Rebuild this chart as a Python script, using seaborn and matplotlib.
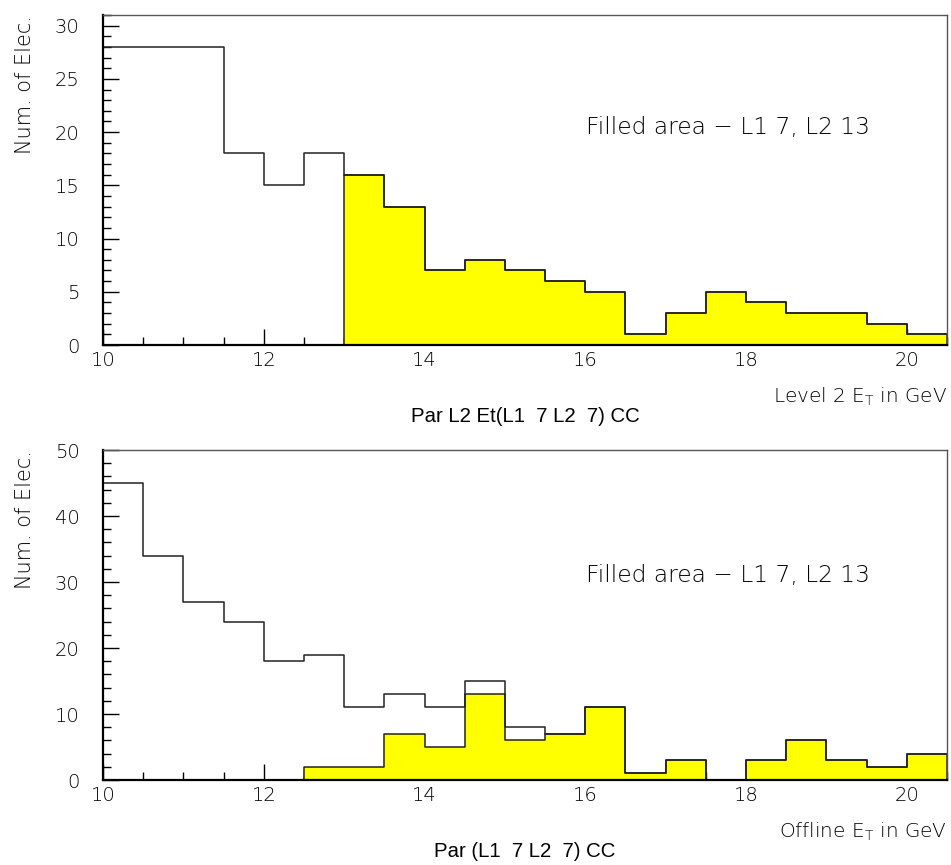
import numpy as np
import pandas as pd
import matplotlib
matplotlib.use("Agg")
import matplotlib.pyplot as plt
import seaborn as sns
from matplotlib.ticker import MultipleLocator

# ---- data ----
bin_edges = [10.0, 10.5, 11.0, 11.5, 12.0, 12.5, 13.0, 13.5, 14.0, 14.5, 15.0,
             15.5, 16.0, 16.5, 17.0, 17.5, 18.0, 18.5, 19.0, 19.5, 20.0, 20.5]
top_all = [28, 28, 28, 18, 15, 18, 16, 13, 7, 8, 7, 6, 5, 1, 3, 5, 4, 3, 3, 2, 1]
top_filled = [0, 0, 0, 0, 0, 0, 16, 13, 7, 8, 7, 6, 5, 1, 3, 5, 4, 3, 3, 2, 1]
bot_all = [45, 34, 27, 24, 18, 19, 11, 13, 11, 15, 8, 7, 11, 1, 3, 0, 3, 6, 3, 2, 4]
bot_filled = [0, 0, 0, 0, 0, 2, 2, 7, 5, 13, 6, 7, 11, 1, 3, 0, 3, 6, 3, 2, 4]
x_ticks = [10, 12, 14, 16, 18, 20]
top_yticks = [0, 5, 10, 15, 20, 25, 30]
bot_yticks = [0, 10, 20, 30, 40, 50]
annot = "Filled area \u2212 L1 7, L2 13"
top_xlabel = "Level 2 E$_\\mathregular{T}$ in GeV"
bot_xlabel = "Offline E$_\\mathregular{T}$ in GeV"
top_title = "Par L2 Et(L1  7 L2  7) CC"
bot_title = "Par (L1  7 L2  7) CC"
ylabel = "Num. of Elec."

sns.set_style("white")
plt.rcParams['font.family'] = ['DejaVu Sans']
plt.rcParams['font.weight'] = 'light'
plt.rcParams['axes.labelweight'] = 'light'

centers = [(a + b) / 2 for a, b in zip(bin_edges[:-1], bin_edges[1:])]

fig = plt.figure(figsize=(9.51, 8.65), dpi=100)
W, H = 951, 865
def ax_rect(l, t, r, b):
    return [l / W, 1 - b / H, (r - l) / W, (b - t) / H]

ax1 = fig.add_axes(ax_rect(103, 15, 947, 345))
ax2 = fig.add_axes(ax_rect(103, 450, 947, 780))

line_col = "#222222"
txt_col = "#000000"

def draw(ax, allv, filled, ymax, minor, yticks, xlabel, title, ann_y):
    df = pd.DataFrame({"x": centers, "all": allv, "filled": filled})
    sns.histplot(data=df, x="x", weights="all", bins=bin_edges, element="step",
                 fill=False, color=line_col, linewidth=1.1, ax=ax)
    sns.histplot(data=df, x="x", weights="filled", bins=bin_edges, element="step",
                 fill=True, facecolor="#ffff00", edgecolor=line_col, alpha=1.0,
                 linewidth=1.1, ax=ax)
    ax.set_xlim(10, 20.5)
    ax.set_ylim(0, ymax)
    ax.set_xticks(x_ticks)
    ax.xaxis.set_minor_locator(MultipleLocator(0.5))
    ax.set_yticks(yticks)
    ax.yaxis.set_minor_locator(MultipleLocator(minor))
    ax.tick_params(axis='both', which='major', direction='in', length=11.5,
                   width=1.0, color='black', labelsize=14, labelcolor=txt_col,
                   top=False, right=False, bottom=True, left=True)
    ax.tick_params(axis='both', which='minor', direction='in', length=6,
                   width=1.0, color='black', top=False, right=False,
                   bottom=True, left=True)
    ax.tick_params(axis='x', which='major', pad=4)
    ax.tick_params(axis='y', which='major', pad=17)
    for s in ['left', 'bottom']:
        ax.spines[s].set_color('black')
        ax.spines[s].set_linewidth(1.6)
    for s in ['top', 'right']:
        ax.spines[s].set_color('#555555')
        ax.spines[s].set_linewidth(1.0)
        ax.spines[s].set_visible(True)
    ax.set_xlabel("")
    ax.set_ylabel(ylabel, fontsize=15, color=txt_col, loc='top',
                  fontweight='light')
    ax.yaxis.set_label_coords(-0.08, 1.0)
    ax.text(1.0, -0.158, xlabel, transform=ax.transAxes, ha='right', va='center',
            fontsize=14.4, color=txt_col)
    ax.text(0.5, -0.218, title, transform=ax.transAxes, ha='center', va='center',
            fontsize=14.7, fontfamily='Liberation Sans', fontweight='normal',
            color='black')
    ax.text(0.572, ann_y, annot, transform=ax.transAxes,
            ha='left', va='center', fontsize=16.8, color=txt_col)

draw(ax1, top_all, top_filled, 31, 1, top_yticks, top_xlabel, top_title, 0.66)
draw(ax2, bot_all, bot_filled, 50, 2, bot_yticks, bot_xlabel, bot_title, 0.621)

fig.savefig("out.png", dpi=100)
